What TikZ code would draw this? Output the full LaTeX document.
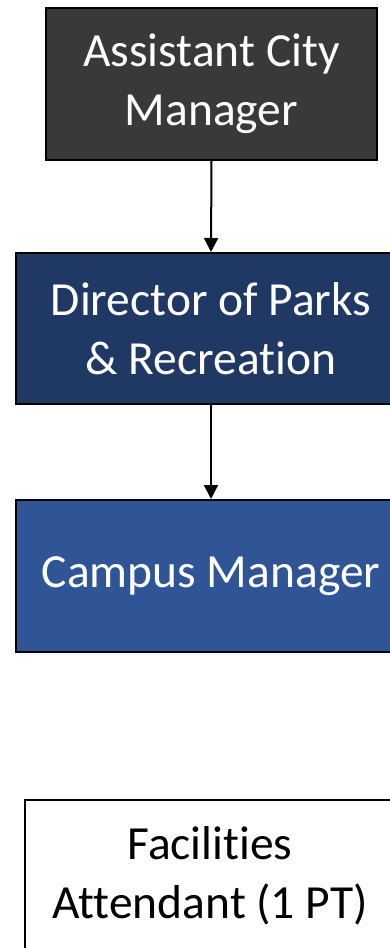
\documentclass[tikz,border=0pt]{standalone}
\usepackage{fontspec}
\setmainfont[Ligatures=NoCommon]{Carlito}
\usetikzlibrary{arrows.meta}
\definecolor{acm}{HTML}{3A3838}
\definecolor{dir}{HTML}{203864}
\definecolor{cam}{HTML}{2F5597}
\tikzset{
  box/.style={rectangle, draw=black, line width=2pt, align=center, inner sep=0pt,
    font=\fontsize{47.5}{59}\selectfont, text=white},
  conn/.style={line width=2pt, -{Triangle[width=14pt,length=14pt]}}
}
\begin{document}
\begin{tikzpicture}[x=1pt,y=-1pt]
\useasboundingbox (0,0) rectangle (390,948);
\clip (0,0) rectangle (390,948);
\node[box, fill=acm, minimum width=331pt, minimum height=152pt] (acm) at (211.5,84) {Assistant City\\Manager};
\node[box, fill=dir, minimum width=390pt, minimum height=151pt] (dir) at (211,328.5) {Director of Parks\\\& Recreation};
\node[box, fill=cam, minimum width=390pt, minimum height=152pt] (cam) at (211,576) {Campus Manager};
\node[box, fill=white, text=black, line width=1.5pt, minimum width=370pt, minimum height=152pt] (fac) at (210,876) {Facilities\\Attendant (1 PT)};
\draw[conn] (acm.south) -- (dir.north);
\draw[conn] (dir.south) -- (cam.north);
\end{tikzpicture}
\end{document}
